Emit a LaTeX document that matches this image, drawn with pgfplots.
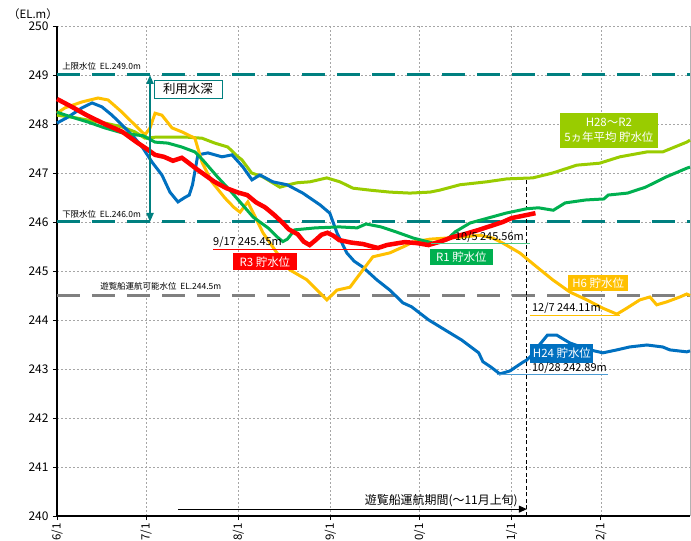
\documentclass[border=0pt]{standalone}
\usepackage{fontspec}
\setmainfont{Noto Sans CJK JP}
\usepackage{pgfplots}
\pgfplotsset{compat=1.18}
\usetikzlibrary{arrows.meta,calc}
\definecolor{cR3}{RGB}{255,0,0}
\definecolor{cR1}{RGB}{0,176,80}
\definecolor{cH6}{RGB}{255,192,0}
\definecolor{cH24}{RGB}{0,112,192}
\definecolor{cAvg}{RGB}{153,204,0}
\definecolor{cTeal}{RGB}{0,128,128}
\definecolor{cGray}{RGB}{128,128,128}
\begin{document}
\begin{tikzpicture}
\begin{axis}[
  scale only axis, width=633bp, height=490bp,
  xmin=0, xmax=213, ymin=240, ymax=250,
  clip=false,
  axis lines*=left, axis line style={line width=1.2bp, black},
  xtick={0,30,61,92,122,153,183},
  xticklabels={6/1,7/1,8/1,9/1,10/1,11/1,12/1},
  x tick label style={rotate=90, anchor=east, font=\fontsize{11.5}{12}\selectfont},
  ytick={240,241,...,250},
  y tick label style={font=\fontsize{12}{13}\selectfont, xshift=-1bp},
  /pgf/number format/assume math mode=true,
  tick align=outside, major tick length=4bp,
  tick style={black, line width=0.8bp},
  grid=major, grid style={gray!70, dash pattern=on 2bp off 2bp, line width=0.6bp},
  extra x ticks={213}, extra x tick labels={},
  extra x tick style={grid style={gray!60, solid, line width=0.8bp}, major tick length=0pt},
]
\coordinate (SW) at (rel axis cs:0,0);
\coordinate (NE) at (rel axis cs:1,1);
% reference lines
\addplot[cTeal, line width=3bp, dash pattern=on 23bp off 12bp] coordinates {(0,249) (213,249)};
\addplot[cTeal, line width=3bp, dash pattern=on 23bp off 12bp] coordinates {(0,246) (213,246)};
\addplot[cGray, line width=3bp, dash pattern=on 23bp off 12bp] coordinates {(0,244.5) (213,244.5)};
% navigation period
\addplot[black, line width=0.8bp, dash pattern=on 4bp off 2.5bp] coordinates {(158.1,240) (158.1,246.85)};
\addplot[black, line width=1bp, -{Triangle[length=8bp,width=7bp]}] coordinates {(40.7,240.14) (158.1,240.14)};
% H28-R2 average
\addplot[cAvg, line width=3bp] coordinates {
(0,248.18) (5,248.14) (10.4,248.08) (16.1,248.02) (21.9,247.94) (26.2,247.84) (29.6,247.71)
(33,247.73) (38.7,247.73) (44,247.73) (48.8,247.71) (53.1,247.61) (57.5,247.53) (60.5,247.35)
(62.2,247.27) (65.5,247.0) (69.3,246.92) (72,246.82) (75,246.71) (78,246.76) (80.7,246.8)
(85.1,246.82) (90.8,246.9) (95.2,246.82) (99.6,246.69) (105.3,246.65) (112,246.61)
(118.7,246.59) (125.5,246.61) (128.8,246.65) (135.6,246.76) (144.6,246.82) (151.4,246.88)
(160.1,246.9) (166.8,247.0) (174.9,247.16) (182.6,247.2) (189.4,247.33) (198.5,247.43)
(203.8,247.43) (211.9,247.63) (213,247.67)};
% H24
\addplot[cH24, line width=3bp] coordinates {
(0,248.02) (3.7,248.14) (8.4,248.33) (11.8,248.43) (15.1,248.35) (18.5,248.18) (21.9,247.98)
(26.2,247.71) (28.9,247.51) (32,247.22) (35.3,246.96) (38,246.61) (40.7,246.41) (43,246.5)
(44.5,246.55) (45.6,246.76) (47.4,247.37) (50.8,247.41) (55.5,247.33) (58.9,247.37)
(62.6,247.12) (65.6,246.86) (68.3,246.96) (72.6,246.82) (77.4,246.76) (82.7,246.59)
(88.5,246.35) (91.8,246.18) (94.2,245.78) (97.5,245.37) (100,245.2) (102.9,245.08)
(107.6,244.82) (112,244.61) (116.4,244.35) (119.3,244.27) (125.1,244.0) (130.5,243.8)
(136.2,243.59) (141.9,243.33) (143.3,243.15) (146,243.04) (149,242.9) (152.4,242.96)
(156.8,243.14) (158,243.18) (160.1,243.3) (161.5,243.43) (165,243.69) (168.2,243.69)
(172.6,243.53) (179.3,243.39) (183.7,243.33) (188.4,243.39) (192.7,243.45) (198.5,243.49)
(203.8,243.45) (206.2,243.39) (211.9,243.35) (213,243.37)};
% H6
\addplot[cH6, line width=3bp] coordinates {
(0,248.22) (2.7,248.33) (8.4,248.45) (13.8,248.53) (17.2,248.49) (21.9,248.24) (26.2,247.98)
(29.6,247.78) (31.3,247.92) (33,248.22) (35.3,248.18) (38.7,247.92) (42,247.84) (46.4,247.71)
(48.8,247.22) (52.1,246.82) (56.5,246.49) (59.5,246.3) (61.6,246.2) (64.2,246.41)
(69.3,245.78) (74,245.37) (78.4,245.02) (84.1,244.82) (88.5,244.55) (90.8,244.41)
(94.2,244.61) (98.6,244.67) (102.9,245.02) (106.3,245.29) (112,245.37) (116.4,245.49)
(119.7,245.59) (125.5,245.65) (135.6,245.69) (142.3,245.73) (146.7,245.67) (150,245.57)
(155.7,245.37) (161.5,245.08) (166.8,244.82) (172.6,244.57) (178.3,244.41) (183.7,244.24)
(188.4,244.12) (191.7,244.24) (196.1,244.41) (199.5,244.47) (201.8,244.31) (205.2,244.37)
(209.6,244.47) (211.9,244.53) (213,244.5)};
% R1
\addplot[cR1, line width=3bp] coordinates {
(0,248.24) (5,248.14) (10.4,248.04) (16.1,247.92) (21.9,247.82) (26.2,247.78) (29,247.76)
(33,247.63) (37.3,247.61) (42,247.53) (46.4,247.43) (49,247.27) (54,246.92) (58,246.66)
(61,246.45) (66,246.1) (71,245.88) (74,245.7) (76,245.6) (77.5,245.65) (80,245.84)
(87,245.88) (95,245.9) (101,245.88) (104,245.96) (109,245.9) (114,245.8) (120,245.67)
(126.5,245.57) (131,245.63) (134,245.8) (139,245.98) (145,246.08) (151,246.18)
(158,246.27) (162,246.29) (167,246.24) (171,246.39) (178,246.45) (184,246.47) (185.5,246.55)
(192,246.59) (198,246.71) (205,246.92) (212,247.1) (213,247.12)};
% R3
\addplot[cR3, line width=4.5bp] coordinates {
(0,248.51) (5,248.35) (10,248.18) (16,248.0) (22,247.84) (27,247.62) (30,247.5) (33,247.37)
(36,247.33) (39,247.25) (42,247.31) (44,247.22) (47,247.08) (50,246.95) (53,246.82)
(57,246.69) (61,246.6) (64,246.55) (67,246.4) (70,246.3) (73,246.15) (76,245.98) (78,245.85)
(81,245.75) (83,245.6) (85,245.53) (87,245.63) (89,245.74) (91,245.78) (93,245.72)
(95,245.63) (99,245.58) (103,245.55) (106,245.5) (108,245.47) (111,245.53) (114,245.56)
(117,245.59) (121,245.57) (125,245.53) (129,245.6) (133,245.69) (137,245.75) (142,245.84)
(147,245.94) (150,246.0) (153,246.08) (157,246.13) (161,246.18)};
% underlines
\addplot[cR3, line width=0.8bp] coordinates {(52.5,245.45) (108.5,245.45)};
\addplot[cR1!70, line width=0.8bp] coordinates {(126,245.56) (159,245.56)};
\addplot[cH6, line width=0.8bp] coordinates {(159.1,244.1) (189.4,244.1)};
\addplot[cH24!70, line width=0.8bp] coordinates {(148,242.89) (185.3,242.89)};
% usable depth arrow
\addplot[cTeal, line width=2bp, {Triangle[length=9bp,width=7bp]}-{Triangle[length=9bp,width=7bp]}] coordinates {(31.3,246) (31.3,249)};
% texts
\node[font=\fontsize{11.5}{12}\selectfont] at (axis cs:-8.1,250.24) {（EL.m）};
\node[anchor=base west, inner sep=0, font=\fontsize{8.5}{9}\selectfont] at (axis cs:1.7,249.12) {上限水位\ \ EL.249.0m};
\node[anchor=base west, inner sep=0, font=\fontsize{8.5}{9}\selectfont] at (axis cs:1.7,246.1) {下限水位\ \ EL.246.0m};
\node[anchor=base west, inner sep=0, font=\fontsize{8.5}{9}\selectfont] at (axis cs:14.5,244.63) {遊覧船運航可能水位\ \ EL.244.5m};
\node[draw=cTeal, fill=white, line width=0.8bp, minimum width=68bp, minimum height=18bp, inner sep=0, font=\fontsize{12.5}{13}\selectfont] at (axis cs:44.06,248.71) {利用水深};
\node[anchor=base east, inner sep=0, font=\fontsize{12}{13}\selectfont] at (axis cs:155.1,240.24) {遊覧船運航期間(～11月上旬)};
% series labels
\node[fill=cR3, text=white, minimum width=64bp, minimum height=17bp, inner sep=0, font=\fontsize{11.5}{12}\selectfont] at (axis cs:69.96,245.19) {R3 貯水位};
\node[fill=cR1, text=white, minimum width=63bp, minimum height=16bp, inner sep=0, font=\fontsize{11.5}{12}\selectfont] at (axis cs:136.06,245.29) {R1 貯水位};
\node[fill=cH6, text=white, minimum width=60bp, minimum height=16bp, inner sep=0, font=\fontsize{11.5}{12}\selectfont] at (axis cs:182.1,244.755) {H6 貯水位};
\node[fill=cH24, text=white, minimum width=63bp, minimum height=19bp, inner sep=0, font=\fontsize{11.5}{12}\selectfont] at (axis cs:169.9,243.32) {H24 貯水位};
\node[fill=cAvg, text=white, minimum width=98bp, minimum height=35bp, inner sep=0, align=center, font=\fontsize{11.5}{15}\selectfont] at (axis cs:185.7,247.87) {H28～R2\\5ヵ年平均 貯水位};
% value labels
\node[anchor=south west, inner sep=0, yshift=1bp, font=\fontsize{11}{12}\selectfont] at (axis cs:52.5,245.45) {9/17 245.45m};
\node[anchor=south west, inner sep=0, yshift=1bp, font=\fontsize{11}{12}\selectfont] at (axis cs:133.9,245.56) {10/5 245.56m};
\node[anchor=south west, inner sep=0, yshift=1bp, font=\fontsize{11}{12}\selectfont] at (axis cs:159.8,244.1) {12/7 244.11m};
\node[anchor=south west, inner sep=0, yshift=1bp, font=\fontsize{11}{12}\selectfont] at (axis cs:159.8,242.89) {10/28 242.89m};
\end{axis}
\pgfresetboundingbox
\path ($(SW)+(-57bp,-25bp)$) rectangle ($(NE)+(1bp,26bp)$);
\end{tikzpicture}
\end{document}
